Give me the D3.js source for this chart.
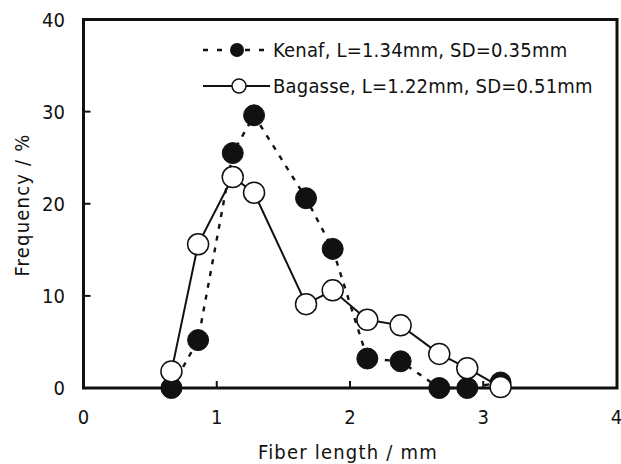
<!DOCTYPE html>
<html><head><meta charset="utf-8">
<script src="https://cdn.jsdelivr.net/npm/d3@7"></script>
<style>
html,body{margin:0;padding:0;background:#fff;}
text{font-family:"DejaVu Sans Condensed","Liberation Sans Narrow","Liberation Sans",Arial,sans-serif;fill:#111;}
</style></head>
<body>
<svg id="chart" width="621" height="464"></svg>
<script>
const xTicks = [0, 1, 2, 3, 4];
const yTicks = [0, 10, 20, 30, 40];
const kenafX = [0.66, 0.86, 1.12, 1.28, 1.67, 1.87, 2.13, 2.38, 2.67, 2.88, 3.13];
const kenafY = [0, 5.2, 25.5, 29.6, 20.6, 15.1, 3.2, 2.9, 0, 0, 0.6];
const bagasseX = [0.66, 0.86, 1.12, 1.28, 1.67, 1.87, 2.13, 2.38, 2.67, 2.88, 3.13];
const bagasseY = [1.8, 15.6, 22.9, 21.2, 9.1, 10.6, 7.4, 6.8, 3.7, 2.15, 0.1];
const legendLabels = ["Kenaf, L=1.34mm, SD=0.35mm", "Bagasse, L=1.22mm, SD=0.51mm"];
const xTitle = "Fiber length / mm";
const yTitle = "Frequency / %";

const svg = d3.select("#chart");
const L = 83.5, R = 617, T = 19.5, B = 388;
const x = d3.scaleLinear().domain([0, 4]).range([L, R - 0.5]);
const y = d3.scaleLinear().domain([0, 40]).range([B, T]);

// inner ticks
const g = svg.append("g");
g.selectAll(".xt").data(xTicks.slice(1, -1)).enter().append("line")
  .attr("x1", d => x(d)).attr("x2", d => x(d)).attr("y1", B).attr("y2", B - 7)
  .attr("stroke", "#111").attr("stroke-width", 2);
g.selectAll(".yt").data(yTicks.slice(1, -1)).enter().append("line")
  .attr("x1", L).attr("x2", L + 7).attr("y1", d => y(d)).attr("y2", d => y(d))
  .attr("stroke", "#111").attr("stroke-width", 2);

// frame
svg.append("rect").attr("x", L).attr("y", T).attr("width", R - L).attr("height", B - T)
  .attr("fill", "none").attr("stroke", "#111").attr("stroke-width", 3);

// tick labels
svg.selectAll(".xl").data(xTicks).enter().append("text")
  .attr("x", d => x(d)).attr("y", 424).attr("text-anchor", "middle")
  .attr("font-size", 20).text(d => d);
svg.selectAll(".yl").data(yTicks).enter().append("text")
  .attr("x", 65).attr("y", d => y(d) + 7).attr("text-anchor", "end")
  .attr("font-size", 20).text(d => d);

// titles
svg.append("text").attr("x", 348).attr("y", 459).attr("text-anchor", "middle")
  .attr("font-size", 20).attr("letter-spacing", 1.2).text(xTitle);
svg.append("text").attr("transform", `translate(29,205) rotate(-90)`)
  .attr("text-anchor", "middle").attr("font-size", 20).attr("letter-spacing", 1.2).text(yTitle);

const line = d3.line().x(d => x(d[0])).y(d => y(d[1]));
const kenaf = kenafX.map((v, i) => [v, kenafY[i]]);
const bagasse = bagasseX.map((v, i) => [v, bagasseY[i]]);

svg.append("path").datum(kenaf).attr("d", line).attr("fill", "none")
  .attr("stroke", "#111").attr("stroke-width", 2.4).attr("stroke-dasharray", "5,7");
svg.selectAll(".km").data(kenaf).enter().append("circle")
  .attr("cx", d => x(d[0])).attr("cy", d => y(d[1])).attr("r", 10.5)
  .attr("fill", "#111").attr("stroke", "#111").attr("stroke-width", 1);

svg.append("path").datum(bagasse).attr("d", line).attr("fill", "none")
  .attr("stroke", "#111").attr("stroke-width", 2);
svg.selectAll(".bm").data(bagasse).enter().append("circle")
  .attr("cx", d => x(d[0])).attr("cy", d => y(d[1])).attr("r", 10.5)
  .attr("fill", "#fff").attr("stroke", "#111").attr("stroke-width", 1.5);

// legend
const lg = svg.append("g");
lg.append("line").attr("x1", 203).attr("x2", 268).attr("y1", 50).attr("y2", 50)
  .attr("stroke", "#111").attr("stroke-width", 2.4).attr("stroke-dasharray", "5,9");
lg.append("circle").attr("cx", 237).attr("cy", 50).attr("r", 7).attr("fill", "#111");
lg.append("line").attr("x1", 203).attr("x2", 270).attr("y1", 86).attr("y2", 86)
  .attr("stroke", "#111").attr("stroke-width", 2);
lg.append("circle").attr("cx", 239).attr("cy", 86).attr("r", 7).attr("fill", "#fff")
  .attr("stroke", "#111").attr("stroke-width", 1.5);
lg.selectAll(".lt").data(legendLabels).enter().append("text")
  .attr("x", 273).attr("y", (d, i) => 57 + i * 36).attr("font-size", 20)
  .attr("letter-spacing", 0.2).text(d => d);
</script>
</body></html>
